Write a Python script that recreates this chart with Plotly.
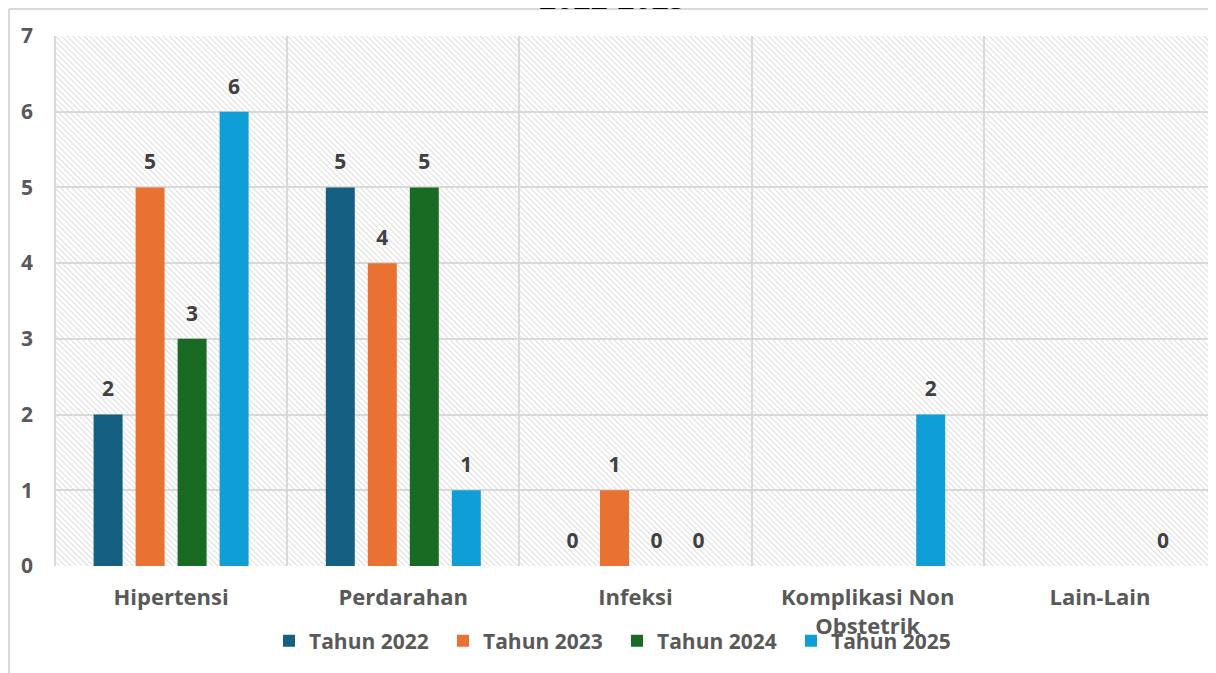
import base64
import plotly.graph_objects as go

# ---------------- data ----------------
categories = ["Hipertensi", "Perdarahan", "Infeksi", "Komplikasi Non<br>Obstetrik", "Lain-Lain"]
series_names = ["Tahun 2022", "Tahun 2023", "Tahun 2024", "Tahun 2025"]
tahun_2022 = [2, 5, 0, None, None]
tahun_2023 = [5, 4, 1, None, None]
tahun_2024 = [3, 5, 0, None, None]
tahun_2025 = [6, 1, 0, 2, 0]
y_ticks = [0, 1, 2, 3, 4, 5, 6, 7]
title_text = "2022-2025"

# ---------------- style ----------------
colors = ["#156082", "#E97132", "#196B24", "#0F9ED5"]
OFF = 8                      # the page body adds an 8px margin
W, H = 1216 - OFF, 673 - OFF
ML, MR, MT, MB = 47, 0, 28, 107
PW, PH = W - ML - MR, H - MT - MB
FONT = "Open Sans"
AXIS_COLOR = "#595959"
LABEL_COLOR = "#404040"
GRID = "#d9d9d9"
LABEL_H = 0.69  # height (data units) of the invisible label boxes above each bar

def px_x(p):   # page pixel -> paper x
    return (p - OFF - ML) / PW

def px_y(p):   # page pixel -> paper y
    return (H - MB - (p - OFF)) / PH

fig = go.Figure()
all_series = [tahun_2022, tahun_2023, tahun_2024, tahun_2025]
for name, vals, col in zip(series_names, all_series, colors):
    fig.add_trace(go.Bar(
        x=categories, y=vals, name=name, marker=dict(color=col, line=dict(width=0)),
        offsetgroup=name,
    ))
for name, vals in zip(series_names, all_series):
    fig.add_trace(go.Bar(
        x=categories,
        y=[LABEL_H if v is not None else None for v in vals],
        base=vals,
        text=[str(v) if v is not None else "" for v in vals],
        textposition="inside", insidetextanchor="middle", textangle=0,
        textfont=dict(family=FONT, size=21, color=LABEL_COLOR, weight="bold"),
        marker=dict(color="rgba(0,0,0,0)", line=dict(width=0)),
        offsetgroup=name, showlegend=False, hoverinfo="skip",
    ))

# hatched background as an svg pattern image
svg = (
    f'<svg xmlns="http://www.w3.org/2000/svg" width="{PW}" height="{PH}">'
    '<defs><pattern id="p" width="4" height="4" patternUnits="userSpaceOnUse" '
    'patternTransform="rotate(-45)">'
    '<rect width="4" height="4" fill="#ffffff"/>'
    '<line x1="0" y1="0" x2="0" y2="4" stroke="#d2d2d2" stroke-width="1.5"/>'
    '</pattern></defs>'
    f'<rect width="{PW}" height="{PH}" fill="url(#p)"/></svg>'
)
src = "data:image/svg+xml;base64," + base64.b64encode(svg.encode()).decode()

fig.update_layout(
    width=W, height=H,
    margin=dict(l=ML, r=MR, t=MT, b=MB),
    paper_bgcolor="white", plot_bgcolor="white",
    barmode="group", bargap=0.2765, bargroupgap=0.31,
    font=dict(family=FONT, color=AXIS_COLOR),
    images=[dict(source=src, xref="paper", yref="paper", x=0, y=1, sizex=1, sizey=1,
                 xanchor="left", yanchor="top", sizing="stretch", layer="below")],
    legend=dict(orientation="h", x=px_x(269), y=px_y(641), xanchor="left", yanchor="middle",
                font=dict(family=FONT, size=21, color=AXIS_COLOR, weight="bold"),
                itemwidth=30, entrywidth=129, entrywidthmode="pixels",
                bgcolor="rgba(0,0,0,0)", traceorder="normal"),
    showlegend=True,
)
fig.update_xaxes(
    tickson="boundaries", showgrid=True, gridcolor=GRID, gridwidth=2,
    ticks="", showline=False, zeroline=False, ticklabelstandoff=16,
    tickfont=dict(family=FONT, size=22, color=AXIS_COLOR, weight="bold"),
)
fig.update_yaxes(
    range=[0, 7], tickvals=y_ticks, showgrid=True, gridcolor=GRID, gridwidth=2,
    zeroline=False, ticks="", showline=False, ticklabelstandoff=21,
    tickfont=dict(family=FONT, size=21, color=AXIS_COLOR, weight="bold"),
)

# outer chart frame (left and top edges)
fig.add_shape(type="line", xref="paper", yref="paper", x0=px_x(9), x1=px_x(9), y0=px_y(9), y1=px_y(700),
              line=dict(color=GRID, width=2))
fig.add_shape(type="line", xref="paper", yref="paper", x0=px_x(9), x1=px_x(1300), y0=px_y(9), y1=px_y(9),
              line=dict(color=GRID, width=2))
fig.add_shape(type="line", xref="paper", yref="paper", x0=0, x1=0, y0=0, y1=1,
              line=dict(color=GRID, width=2))

# chart title, cut off by the top edge as in the original
fig.add_annotation(text=title_text, xref="paper", yref="paper", x=px_x(612), y=px_y(20),
                   xanchor="center", yanchor="bottom", showarrow=False,
                   font=dict(family=FONT, size=30, color="#000000", weight="bold"))

fig.write_html("out.html")
